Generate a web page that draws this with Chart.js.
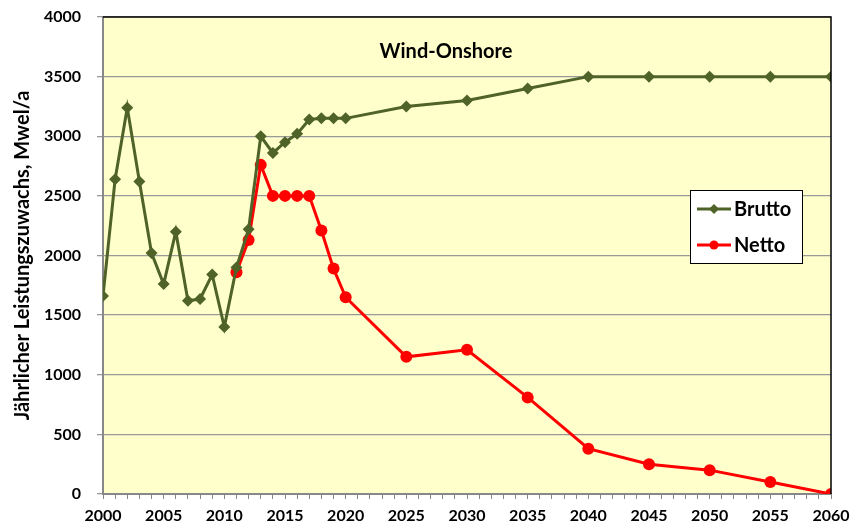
<!DOCTYPE html>
<html>
<head>
<meta charset="utf-8">
<script src="https://cdn.jsdelivr.net/npm/chart.js@4"></script>
<style>
  html, body { margin: 0; padding: 0; background: #fff; }
  #wrap { width: 850px; height: 526px; }
</style>
</head>
<body>
<div id="wrap"><canvas id="myChart" width="850" height="526"></canvas></div>
<script>
// years on the x axis
const years = [2000, 2001, 2002, 2003, 2004, 2005, 2006, 2007, 2008, 2009, 2010,
  2011, 2012, 2013, 2014, 2015, 2016, 2017, 2018, 2019, 2020,
  2025, 2030, 2035, 2040, 2045, 2050, 2055, 2060]

// Brutto, MWel/a
const brutto = [1660, 2640, 3240, 2620, 2020, 1760, 2200, 1620, 1635, 1840, 1400,
  1900, 2220, 3000, 2860, 2950, 3020, 3140, 3150, 3150, 3150,
  3250, 3300, 3400, 3500, 3500, 3500, 3500, 3500]

// Netto, MWel/a (starts 2011)
const netto = [null, null, null, null, null, null, null, null, null, null, null,
  1860, 2130, 2760, 2500, 2500, 2500, 2500, 2210, 1890, 1650,
  1150, 1210, 810, 380, 250, 200, 100, 0]

const yTicks = [0, 500, 1000, 1500, 2000, 2500, 3000, 3500, 4000]

const seriesNames = ['Brutto', 'Netto']
const seriesColors = ['#4F6228', '#FF0000']
const chartTitle = 'Wind-Onshore'
const yTitle = 'Jährlicher Leistungszuwachs, Mwel/a'

const toPoints = (vals) => years.map((x, i) => ({ x: x, y: vals[i] }))

const FONT = 'Lato, "Open Sans", sans-serif'

// plot background, frame lines, title and legend box
const decor = {
  id: 'decor',
  beforeDraw(chart) {
    const { ctx, chartArea: a } = chart
    ctx.save()
    ctx.fillStyle = '#FFFFCC'
    ctx.fillRect(a.left, a.top, a.right - a.left, a.bottom - a.top)
    ctx.restore()
  },
  afterDatasetsDraw(chart) {
    const { ctx, chartArea: a } = chart
    ctx.save()
    // black frame on top & right
    ctx.strokeStyle = '#000'
    ctx.lineWidth = 1.5
    ctx.beginPath()
    ctx.moveTo(a.left, a.top)
    ctx.lineTo(a.right, a.top)
    ctx.lineTo(a.right, a.bottom)
    ctx.stroke()

    // title
    ctx.fillStyle = '#000'
    ctx.font = 'bold 20px ' + FONT
    ctx.textAlign = 'center'
    ctx.textBaseline = 'middle'
    ctx.fillText(chartTitle, 446, 52)

    // legend
    const bx = 690, by = 190, bw = 112, bh = 73
    ctx.fillStyle = '#fff'
    ctx.fillRect(bx, by, bw, bh)
    ctx.strokeStyle = '#000'
    ctx.lineWidth = 1
    ctx.strokeRect(bx + 0.5, by + 0.5, bw, bh)
    ctx.font = 'bold 20px ' + FONT
    ctx.textAlign = 'left'
    seriesNames.forEach((name, i) => {
      const ly = by + 19 + i * 36
      ctx.strokeStyle = seriesColors[i]
      ctx.fillStyle = seriesColors[i]
      ctx.lineWidth = 3
      ctx.beginPath()
      ctx.moveTo(bx + 7, ly)
      ctx.lineTo(bx + 41, ly)
      ctx.stroke()
      ctx.beginPath()
      if (i === 0) {
        ctx.moveTo(bx + 24, ly - 5)
        ctx.lineTo(bx + 29, ly)
        ctx.lineTo(bx + 24, ly + 5)
        ctx.lineTo(bx + 19, ly)
        ctx.closePath()
      } else {
        ctx.arc(bx + 24, ly, 4.5, 0, Math.PI * 2)
      }
      ctx.fill()
      ctx.fillStyle = '#000'
      ctx.fillText(name, bx + 44, ly + 1)
    })
    ctx.restore()
  }
}

// keep tick labels from pushing the plot area in; layout padding decides
const noOverflow = (axis) => {
  axis.paddingTop = 0
  axis.paddingBottom = 0
  axis.paddingLeft = 0
  axis.paddingRight = 0
}

const ctx = document.getElementById('myChart')
new Chart(ctx, {
  type: 'line',
  data: {
    datasets: [{
      label: seriesNames[0],
      data: toPoints(brutto),
      borderColor: seriesColors[0],
      backgroundColor: seriesColors[0],
      borderWidth: 3,
      pointStyle: 'rectRot',
      pointRadius: 6,
      pointBorderWidth: 0,
      spanGaps: false
    }, {
      label: seriesNames[1],
      data: toPoints(netto),
      borderColor: seriesColors[1],
      backgroundColor: seriesColors[1],
      borderWidth: 3,
      pointStyle: 'circle',
      pointRadius: 6,
      pointBorderWidth: 0
    }]
  },
  options: {
    responsive: false,
    animation: false,
    layout: { padding: { top: 17, right: 19, left: 0, bottom: 0 } },
    plugins: {
      legend: { display: false },
      tooltip: { enabled: false }
    },
    scales: {
      x: {
        type: 'linear',
        min: 2000,
        max: 2060,
        afterFit: (axis) => { axis.height = 32; noOverflow(axis) },
        ticks: {
          stepSize: 1,
          autoSkip: false,
          maxRotation: 0,
          color: '#000',
          font: { family: FONT, size: 16, weight: 'bold' },
          padding: 7,
          callback: (v) => (v % 5 === 0 ? String(v) : '')
        },
        grid: { drawOnChartArea: false, color: '#888', tickLength: 5 },
        border: { color: '#888', width: 2 }
      },
      y: {
        min: 0,
        max: 4000,
        afterFit: (axis) => { axis.width = 103; noOverflow(axis) },
        afterBuildTicks: (axis) => { axis.ticks = yTicks.map((v) => ({ value: v })) },
        ticks: {
          color: '#000',
          font: { family: FONT, size: 16, weight: 'bold' },
          padding: 16,
          callback: (v) => String(v)
        },
        grid: { color: '#999', lineWidth: 1.3, tickLength: 6 },
        border: { color: '#888', width: 2 },
        title: {
          display: true,
          text: yTitle,
          color: '#000',
          font: { family: FONT, size: 20, weight: 'bold' },
          padding: { top: 11, bottom: 0 }
        }
      }
    }
  },
  plugins: [decor]
})
</script>
</body>
</html>
